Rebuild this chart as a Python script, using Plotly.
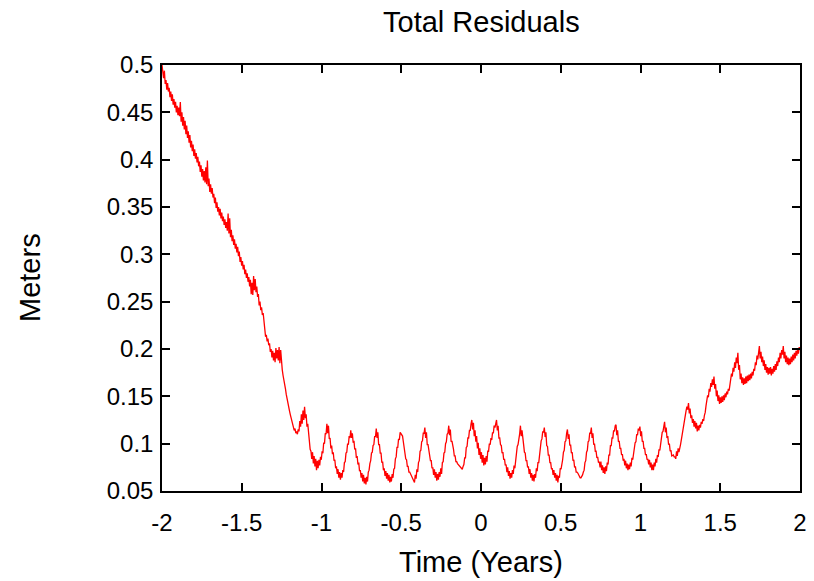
import numpy as np
import plotly.graph_objects as go

residual_decline = [
0.500,0.492,0.486,0.494,0.480,0.484,0.474,0.481,0.472,0.476,0.466,0.472,0.462,0.469,0.458,0.464,
0.455,0.461,0.450,0.457,0.447,0.455,0.446,0.461,0.440,0.450,0.436,0.445,0.432,0.441,0.427,0.436,
0.423,0.430,0.418,0.426,0.413,0.420,0.409,0.416,0.404,0.411,0.401,0.407,0.397,0.403,0.393,0.398,
0.387,0.394,0.382,0.390,0.378,0.388,0.376,0.392,0.374,0.399,0.372,0.380,0.366,0.374,0.364,0.370,
0.360,0.364,0.354,0.360,0.349,0.355,0.345,0.350,0.341,0.348,0.338,0.344,0.335,0.340,0.331,0.337,
0.328,0.334,0.325,0.343,0.322,0.338,0.318,0.326,0.314,0.320,0.310,0.316,0.306,0.311,0.302,0.308,
0.298,0.303,0.292,0.297,0.288,0.293,0.284,0.289,0.279,0.284,0.275,0.280,0.271,0.276,0.266,0.273,
0.258,0.270,0.257,0.277,0.262,0.274,0.260,0.266,0.255,0.258,0.246,0.250,0.241,0.244,0.236,0.238,
0.226,0.222,0.213,0.215,0.208,0.211,0.204,0.206,0.197,0.200,0.191,0.198,0.188,0.196,0.186,0.201,
0.190,0.199,0.188,0.202,0.185,0.199,0.182,0.178,0.172,0.168,0.164,0.158,0.152,0.147,0.141,0.139,
0.135,0.131,0.128,0.124,0.122,0.118,0.114,0.116,0.111,0.113,0.110,0.115,0.113,0.124,0.118,0.131,
0.121,0.135,0.125,0.139,0.127,
]
residual_oscillation = [
0.131,0.118,0.121,0.110,0.106,0.094,0.092,0.084,0.091,0.079,0.087,0.076,0.084,0.072,0.082,0.074,
0.083,0.077,0.086,0.083,0.092,0.090,0.101,0.100,0.111,0.110,0.121,0.111,0.119,0.105,0.106,0.095,
0.098,0.089,0.091,0.082,0.083,0.074,0.076,0.068,0.073,0.064,0.070,0.062,0.069,0.064,0.072,0.070,
0.080,0.081,0.090,0.091,0.100,0.099,0.108,0.106,0.114,0.106,0.111,0.101,0.103,0.094,0.095,0.085,
0.087,0.078,0.080,0.071,0.072,0.064,0.069,0.060,0.067,0.058,0.064,0.057,0.065,0.060,0.070,0.072,
0.079,0.082,0.090,0.091,0.098,0.099,0.108,0.107,0.116,0.106,0.112,0.099,0.099,0.090,0.090,0.080,
0.081,0.072,0.074,0.066,0.071,0.063,0.069,0.061,0.067,0.059,0.065,0.060,0.068,0.064,0.073,0.074,
0.084,0.086,0.096,0.096,0.105,0.104,0.112,0.110,0.110,0.108,0.102,0.095,0.091,0.084,0.083,0.076,
0.076,0.070,0.070,0.068,0.066,0.065,0.062,0.061,0.059,0.067,0.063,0.073,0.070,0.080,0.082,0.092,
0.093,0.102,0.103,0.111,0.111,0.117,0.106,0.112,0.099,0.099,0.091,0.090,0.082,0.082,0.074,0.075,
0.067,0.073,0.064,0.070,0.061,0.068,0.062,0.070,0.065,0.074,0.068,0.080,0.081,0.090,0.091,0.100,
0.102,0.110,0.111,0.119,0.109,0.115,0.102,0.103,0.095,0.094,0.087,0.087,0.081,0.081,0.079,0.078,
0.076,0.075,0.074,0.074,0.073,0.076,0.078,0.085,0.085,0.096,0.097,0.106,0.106,0.114,0.114,0.121,
0.125,0.115,0.122,0.108,0.114,0.102,0.108,0.095,0.101,0.088,0.095,0.084,0.091,0.080,0.088,0.077,
0.085,0.078,0.087,0.081,0.092,0.092,0.100,0.099,0.106,0.104,0.112,0.111,0.119,0.117,0.123,0.125,
0.114,0.119,0.106,0.106,0.099,0.098,0.090,0.091,0.083,0.084,0.077,0.078,0.070,0.075,0.066,0.071,
0.063,0.069,0.064,0.072,0.068,0.077,0.074,0.085,0.087,0.097,0.099,0.109,0.110,0.119,0.108,0.114,
0.100,0.099,0.091,0.090,0.082,0.082,0.075,0.076,0.068,0.073,0.064,0.069,0.061,0.067,0.060,0.068,
0.064,0.074,0.071,0.080,0.080,0.090,0.093,0.103,0.105,0.113,0.112,0.117,0.107,0.112,0.098,0.097,
0.088,0.088,0.080,0.080,0.073,0.074,0.067,0.072,0.064,0.069,0.061,0.067,0.059,0.066,0.064,0.074,
0.073,0.082,0.083,0.091,0.093,0.102,0.103,0.111,0.115,0.105,0.110,0.098,0.099,0.090,0.091,0.082,
0.083,0.075,0.076,0.070,0.070,0.069,0.067,0.066,0.064,0.064,0.065,0.067,0.070,0.072,0.080,0.082,
0.091,0.093,0.102,0.103,0.111,0.111,0.117,0.106,0.111,0.099,0.100,0.092,0.092,0.085,0.086,0.080,
0.081,0.075,0.081,0.072,0.077,0.069,0.075,0.068,0.076,0.071,0.080,0.078,0.088,0.088,0.098,0.098,
0.106,0.106,0.114,0.113,0.119,0.120,0.109,0.114,0.102,0.103,0.095,0.095,0.088,0.089,0.082,0.084,
0.077,0.082,0.074,0.079,0.072,0.078,0.073,0.080,0.076,0.085,0.083,0.091,0.092,0.101,0.102,0.110,
0.109,0.116,0.114,0.118,0.108,0.113,0.102,0.103,0.095,0.095,0.088,0.089,0.083,0.084,0.078,0.083,
0.075,0.080,0.072,0.078,0.072,0.080,0.076,0.084,0.080,0.088,0.086,0.094,0.093,0.101,0.102,0.112,
0.113,0.121,0.123,0.112,0.117,0.106,0.108,0.099,0.100,0.092,0.093,0.087,0.088,0.088,0.086,0.086,
0.084,0.092,0.087,0.095,0.091,0.098,
]
residual_rise = [
0.099,0.104,0.110,0.114,0.120,0.126,0.131,0.135,0.139,0.136,0.143,0.132,0.137,0.127,0.130,0.122,
0.126,0.118,0.124,0.116,0.122,0.113,0.119,0.114,0.120,0.117,0.123,0.121,0.126,0.124,0.130,0.133,
0.140,0.145,0.151,0.149,0.158,0.155,0.164,0.160,0.168,0.162,0.171,0.158,0.163,0.150,0.156,0.145,
0.151,0.142,0.149,0.143,0.150,0.144,0.151,0.146,0.153,0.149,0.155,0.152,0.158,0.156,0.164,0.168,
0.174,0.171,0.180,0.176,0.186,0.180,0.191,0.185,0.196,0.178,0.183,0.168,0.174,0.164,0.170,0.162,
0.169,0.163,0.171,0.164,0.172,0.166,0.173,0.167,0.174,0.169,0.176,0.172,0.179,0.177,0.186,0.183,
0.193,0.189,0.198,0.203,0.190,0.197,0.186,0.192,0.182,0.188,0.178,0.184,0.175,0.181,0.173,0.180,
0.174,0.181,0.172,0.179,0.174,0.182,0.176,0.184,0.178,0.187,0.182,0.191,0.186,0.196,0.190,0.199,
0.194,0.203,0.190,0.197,0.186,0.193,0.184,0.191,0.183,0.190,0.184,0.192,0.186,0.194,0.188,0.196,
0.190,0.198,0.193,0.200,0.195,0.202,0.199,
]

x_tick_values = [-2, -1.5, -1, -0.5, 0, 0.5, 1, 1.5, 2]
x_tick_labels = ["-2", "-1.5", "-1", "-0.5", "0", "0.5", "1", "1.5", "2"]
y_tick_values = [0.05, 0.1, 0.15, 0.2, 0.25, 0.3, 0.35, 0.4, 0.45, 0.5]
y_tick_labels = ["0.05", "0.1", "0.15", "0.2", "0.25", "0.3", "0.35", "0.4", "0.45", "0.5"]

residual_m = residual_decline + residual_oscillation + residual_rise
time_years = np.linspace(-2, 2, len(residual_m))

FONT = "Liberation Sans, Arial, sans-serif"

fig = go.Figure()
fig.add_trace(go.Scatter(x=time_years, y=residual_m, mode="lines",
                         line=dict(color="#ff0000", width=1.3), showlegend=False,
                         hoverinfo="skip"))

axis_common = dict(showline=True, linecolor="black", linewidth=1.5, mirror="ticks",
                   ticks="inside", ticklen=8, tickwidth=1.5, tickcolor="black",
                   showgrid=False, zeroline=False, automargin=False,
                   tickfont=dict(family=FONT, size=24, color="black"))

fig.update_layout(
    width=814, height=581,
    margin=dict(l=162, r=14, t=65, b=90, autoexpand=False),
    paper_bgcolor="white", plot_bgcolor="white",
    xaxis=dict(range=[-2, 2], tickvals=x_tick_values, ticktext=x_tick_labels,
               ticklabelstandoff=9, **axis_common),
    yaxis=dict(range=[0.05, 0.5], tickvals=y_tick_values, ticktext=y_tick_labels,
               ticklabelstandoff=2, **axis_common),
    annotations=[
        dict(text="Total Residuals", xref="paper", yref="paper", x=0.5, y=1 + 43 / 426,
             showarrow=False, xanchor="center", yanchor="middle",
             font=dict(family=FONT, size=29, color="black")),
        dict(text="Time (Years)", xref="paper", yref="paper", x=0.5, y=-(562 - 491) / 426,
             showarrow=False, xanchor="center", yanchor="middle",
             font=dict(family=FONT, size=29, color="black")),
        dict(text="Meters", xref="paper", yref="paper", x=-(162 - 30) / 638, y=0.5,
             showarrow=False, xanchor="center", yanchor="middle", textangle=-90,
             font=dict(family=FONT, size=29, color="black")),
    ],
)

fig.write_html("out.html")
